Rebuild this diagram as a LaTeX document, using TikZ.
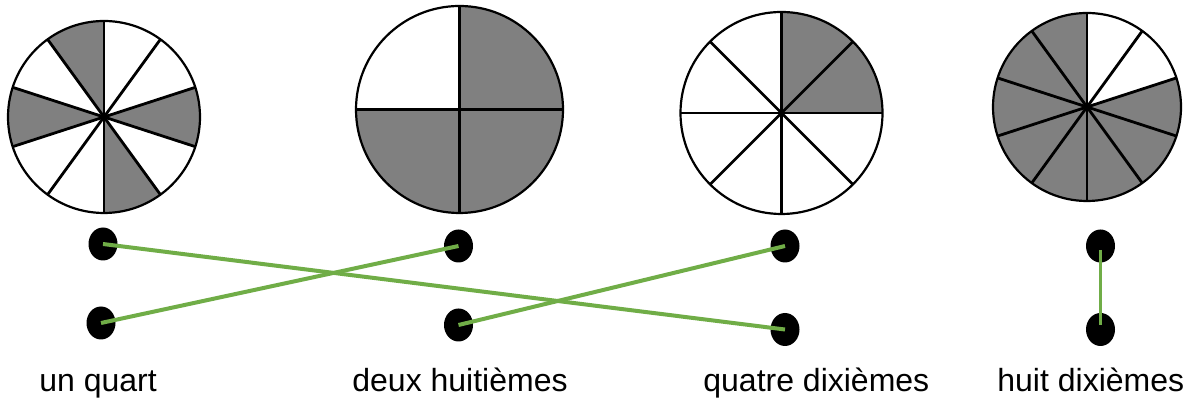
\documentclass[tikz,border=0pt]{standalone}
\usepackage{fontspec}
\setmainfont{Liberation Sans}
\usetikzlibrary{shapes.geometric}
\colorlet{pieGray}{black!50}
\definecolor{linkGreen}{RGB}{112,173,71}

\begin{document}
\begin{tikzpicture}[x=0.5pt,y=0.5pt,
    piece/.style={fill=pieGray},
    spoke/.style={line width=1.4pt},
    rim/.style={line width=1.1pt},
    blob/.style={ellipse,fill=black,minimum width=14.5pt,minimum height=16.5pt,inner sep=0pt},
    link/.style={linkGreen,line width=2pt},
    fraclabel/.style={anchor=base west,inner sep=0pt,font=\fontsize{16}{19}\selectfont}]
        \useasboundingbox (0,0) rectangle (1194,400);
        % Disc 1: ten parts, four gray
        \coordinate (c1) at (104,283);
        \foreach \a in {90,162,270,342}
          \fill[piece] (c1) -- ++(\a:96) arc[start angle=\a, delta angle=36, radius=96] -- cycle;
        \foreach \a in {18,54,...,342}
          \draw[spoke] (c1) -- ++(\a:96);
        \draw[rim] (c1) circle[radius=96];
        % Disc 2: four parts, three gray
        \coordinate (c2) at (459.5,290.5);
        \foreach \a in {0,180,270}
          \fill[piece] (c2) -- ++(\a:103.5) arc[start angle=\a, delta angle=90, radius=103.5] -- cycle;
        \foreach \a in {0,90,...,270}
          \draw[spoke] (c2) -- ++(\a:103.5);
        \draw[rim] (c2) circle[radius=103.5];
        % Disc 3: eight parts, two gray
        \coordinate (c3) at (781.5,287);
        \foreach \a in {0,45}
          \fill[piece] (c3) -- ++(\a:101) arc[start angle=\a, delta angle=45, radius=101] -- cycle;
        \foreach \a in {0,45,...,315}
          \draw[spoke] (c3) -- ++(\a:101);
        \draw[rim] (c3) circle[radius=101];
        % Disc 4: ten parts, eight gray
        \coordinate (c4) at (1087,293);
        \foreach \a in {90,126,...,342}
          \fill[piece] (c4) -- ++(\a:94) arc[start angle=\a, delta angle=36, radius=94] -- cycle;
        \foreach \a in {18,54,...,342}
          \draw[spoke] (c4) -- ++(\a:94);
        \draw[rim] (c4) circle[radius=94];
        % Dots, top row and bottom row
        \node[blob] (t1) at (103,156) {};
        \node[blob] (t2) at (458.5,154) {};
        \node[blob] (t3) at (785,154) {};
        \node[blob] (t4) at (1100.5,154) {};
        \node[blob] (b1) at (101,77) {};
        \node[blob] (b2) at (458.5,75) {};
        \node[blob] (b3) at (785,70.5) {};
        \node[blob] (b4) at (1100.5,70.5) {};
        % Green links
        \draw[link] (t1.center) -- (b3.center);
        \draw[link] (b1.center) -- (t2.center);
        \draw[link] (b2.center) -- (t3.center);
        \draw[link, line width=1.5pt] ([yshift=-2pt]t4.center) -- ([yshift=2pt]b4.center);
        % Fraction names
        \node[fraclabel] (l1) at (39,8) {un quart};
        \node[fraclabel] (l2) at (352,8) {deux huitièmes};
        \node[fraclabel] (l3) at (703,8) {quatre dixièmes};
        \node[fraclabel] (l4) at (997,8) {huit dixièmes};
      \end{tikzpicture}
\end{document}
